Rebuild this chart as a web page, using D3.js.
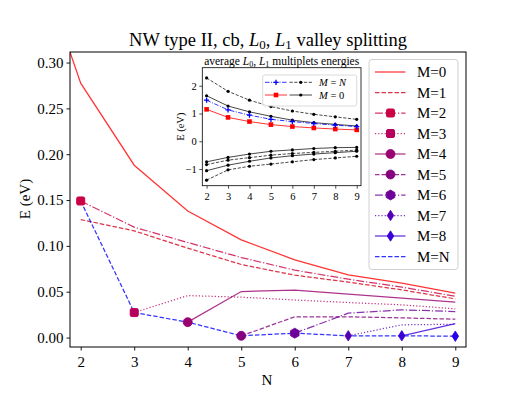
<!DOCTYPE html>
<html>
<head>
<meta charset="utf-8">
<script src="https://cdn.jsdelivr.net/npm/d3@7"></script>
<style>
  body { margin: 0; background: #fff; }
  svg { display: block; font-family: "Liberation Serif", serif; }
</style>
</head>
<body>
<svg id="chart" width="524" height="396"></svg>
<script>
// NW type II, cb — L0/L1 valley splitting vs N, with inset of multiplet energies

// ── Main data: splitting E (eV) per M, indexed by N ──────────────────────────
const M0_N = [1, 2, 3, 4, 5, 6, 7, 8, 9];
const M0_E = [0.447, 0.2775, 0.188, 0.138, 0.1066, 0.0848, 0.0684, 0.0593, 0.0484];
const M1_N = [2, 3, 4, 5, 6, 7, 8, 9];
const M1_E = [0.1287, 0.1164, 0.0975, 0.0797, 0.068, 0.0605, 0.052, 0.0422];
const M2_N = [2, 3, 4, 5, 6, 7, 8, 9];
const M2_E = [0.149, 0.1204, 0.1037, 0.0873, 0.0735, 0.0637, 0.055, 0.0451];
const M3_N = [3, 4, 5, 6, 7, 8, 9];
const M3_E = [0.0273, 0.0458, 0.044, 0.041, 0.0382, 0.0357, 0.0313];
const M4_N = [4, 5, 6, 7, 8, 9];
const M4_E = [0.0168, 0.0502, 0.0517, 0.0475, 0.043, 0.0386];
const M5_N = [5, 6, 7, 8, 9];
const M5_E = [0.0019, 0.0226, 0.0226, 0.0215, 0.020];
const M6_N = [6, 7, 8, 9];
const M6_E = [0.0048, 0.0266, 0.0302, 0.0284];
const M7_N = [7, 8, 9];
const M7_E = [0.0019, 0.0139, 0.0145];
const M8_N = [8, 9];
const M8_E = [0.0019, 0.0152];
const MN_N = [2, 3, 4, 5, 6, 7, 8, 9];
const MN_E = [0.149, 0.0273, 0.0168, 0.0019, 0.0048, 0.0019, 0.0019, 0.0015];
const M9_N = [9];
const M9_E = [0.0015];

const X_TICKS = [2, 3, 4, 5, 6, 7, 8, 9];
const Y_TICKS = [0.00, 0.05, 0.10, 0.15, 0.20, 0.25, 0.30];

// ── Inset data: average L0, L1 multiplet energies (eV) ───────────────────────
const IN_N = [2, 3, 4, 5, 6, 7, 8, 9];
const IN_RED   = [1.15, 0.86, 0.71, 0.60, 0.53, 0.48, 0.44, 0.41];
const IN_BLUE  = [1.48, 1.13, 0.94, 0.79, 0.71, 0.64, 0.58, 0.53];
const IN_K_S1  = [1.64, 1.27, 1.06, 0.90, 0.76, 0.67, 0.61, 0.55];
const IN_K_D1  = [2.28, 1.80, 1.48, 1.25, 1.09, 0.97, 0.88, 0.79];
const IN_K_S2  = [-0.74, -0.58, -0.46, -0.36, -0.31, -0.26, -0.23, -0.22];
const IN_K_D2  = [-0.84, -0.68, -0.59, -0.50, -0.44, -0.40, -0.36, -0.32];
const IN_K_S3  = [-1.06, -0.86, -0.72, -0.60, -0.52, -0.46, -0.41, -0.36];
const IN_K_D3  = [-1.40, -1.03, -0.90, -0.82, -0.74, -0.66, -0.60, -0.54];
const IN_Y_TICKS = [-1, 0, 1, 2];

// ── Styles ───────────────────────────────────────────────────────────────────
const DASH = { solid: null, dashed: '4.5,2', dashdot: '7.9,2,1.2,2', dotted: '1.2,2' };

const SERIES = [
    { label: 'M=0', n: M0_N, e: M0_E, color: '#ff0000', dash: 'solid',   marker: null },
    { label: 'M=1', n: M1_N, e: M1_E, color: '#d4001c', dash: 'dashed',  marker: null },
    { label: 'M=2', n: M2_N, e: M2_E, color: '#cc0044', dash: 'dashdot', marker: 'square' },
    { label: 'M=3', n: M3_N, e: M3_E, color: '#b5005c', dash: 'dotted',  marker: 'square' },
    { label: 'M=4', n: M4_N, e: M4_E, color: '#990070', dash: 'solid',   marker: 'circle' },
    { label: 'M=5', n: M5_N, e: M5_E, color: '#85007f', dash: 'dashed',  marker: 'circle' },
    { label: 'M=6', n: M6_N, e: M6_E, color: '#6c0098', dash: 'dashdot', marker: 'hexagon' },
    { label: 'M=7', n: M7_N, e: M7_E, color: '#5200b5', dash: 'dotted',  marker: 'thindiamond' },
    { label: 'M=8', n: M8_N, e: M8_E, color: '#3a00d5', dash: 'solid',   marker: 'thindiamond' },
    { label: 'M=N', n: MN_N, e: MN_E, color: '#0000ff', dash: 'dashed',  marker: null },
];
const EXTRA = { n: M9_N, e: M9_E, color: '#2a00e4', marker: 'thindiamond' };

const svg = d3.select('#chart');
svg.append('rect').attr('width', 524).attr('height', 396).attr('fill', '#fff');

const AX = { left: 70, right: 466, top: 52, bottom: 347 };
const x = d3.scaleLinear().domain([1.8, 9.2]).range([AX.left, AX.right]);
const y = d3.scaleLinear().domain([-0.0103, 0.3115]).range([AX.bottom, AX.top]);

const defs = svg.append('defs');
defs.append('clipPath').attr('id', 'clip-main')
    .append('rect').attr('x', AX.left).attr('y', AX.top)
    .attr('width', AX.right - AX.left).attr('height', AX.bottom - AX.top);

function drawMarker(g, kind, cx, cy, color, s) {
    s = s || 1;
    if (kind === 'square') {
        g.append('rect').attr('x', cx - 4 * s).attr('y', cy - 4 * s)
            .attr('width', 8 * s).attr('height', 8 * s).attr('rx', 1.5 * s)
            .attr('fill', color).attr('stroke', color).attr('stroke-width', 1);
    } else if (kind === 'circle') {
        g.append('circle').attr('cx', cx).attr('cy', cy).attr('r', 4.5 * s)
            .attr('fill', color).attr('stroke', color).attr('stroke-width', 0.8);
    } else if (kind === 'hexagon') {
        const r = 5 * s;
        const pts = d3.range(6).map(i => {
            const a = Math.PI / 6 + i * Math.PI / 3;
            return [cx + r * Math.cos(a), cy + r * Math.sin(a)];
        });
        g.append('path').attr('d', 'M' + pts.join('L') + 'Z')
            .attr('fill', color).attr('stroke', color).attr('stroke-width', 0.8)
            .attr('stroke-linejoin', 'round');
    } else if (kind === 'thindiamond') {
        const w = 3.3 * s, h = 5.2 * s;
        g.append('path')
            .attr('d', `M${cx},${cy - h}L${cx + w},${cy}L${cx},${cy + h}L${cx - w},${cy}Z`)
            .attr('fill', color).attr('stroke', color).attr('stroke-width', 0.8)
            .attr('stroke-linejoin', 'round');
    } else if (kind === 'dot') {
        g.append('circle').attr('cx', cx).attr('cy', cy).attr('r', 1.6 * s)
            .attr('fill', color);
    } else if (kind === 'plus') {
        const r = 2.6 * s;
        g.append('path').attr('d', `M${cx - r},${cy}H${cx + r}M${cx},${cy - r}V${cy + r}`)
            .attr('stroke', color).attr('stroke-width', 1.3);
    } else if (kind === 'smallsquare') {
        g.append('rect').attr('x', cx - 2.3).attr('y', cy - 2.3)
            .attr('width', 4.6).attr('height', 4.6).attr('fill', color);
    }
}

// ── Main axes frame + ticks ─────────────────────────────────────────────────
const gx = svg.append('g').attr('transform', `translate(0,${AX.bottom})`)
    .call(d3.axisBottom(x).tickValues(X_TICKS).tickFormat(d3.format('d'))
        .tickSize(3.5).tickPadding(4));
const gy = svg.append('g').attr('transform', `translate(${AX.left},0)`)
    .call(d3.axisLeft(y).tickValues(Y_TICKS).tickFormat(d3.format('.2f'))
        .tickSize(3.5).tickPadding(3));
[gx, gy].forEach(g => {
    g.select('.domain').remove();
    g.selectAll('text').attr('font-family', 'Liberation Serif').attr('font-size', 15).attr('fill', '#000');
    g.selectAll('line').attr('stroke', '#000').attr('stroke-width', 0.9);
});
gx.selectAll('text').attr('dy', '0.85em');

// ── Main lines ───────────────────────────────────────────────────────────────
const line = d3.line().x(d => x(d[0])).y(d => y(d[1]));
const plot = svg.append('g').attr('clip-path', 'url(#clip-main)');

SERIES.forEach(s => {
    const pts = s.n.map((n, i) => [n, s.e[i]]);
    plot.append('path').datum(pts).attr('d', line)
        .attr('fill', 'none').attr('stroke', s.color)
        .attr('stroke-opacity', 0.8).attr('stroke-width', 1.25)
        .attr('stroke-dasharray', DASH[s.dash]);
});

// markers sit at the first point (N = M) of each series
const mk = svg.append('g');
SERIES.forEach(s => {
    if (!s.marker) return;
    drawMarker(mk, s.marker, x(s.n[0]), y(s.e[0]), s.color);
});
drawMarker(mk, EXTRA.marker, x(EXTRA.n[0]), y(EXTRA.e[0]), EXTRA.color);

svg.append('rect').attr('x', AX.left).attr('y', AX.top)
    .attr('width', AX.right - AX.left).attr('height', AX.bottom - AX.top)
    .attr('fill', 'none').attr('stroke', '#000').attr('stroke-width', 1);

// ── Title and axis labels ────────────────────────────────────────────────────
const title = svg.append('text').attr('x', (AX.left + AX.right) / 2).attr('y', 46)
    .attr('text-anchor', 'middle').attr('font-size', 18.5);
title.append('tspan').text('NW type II, cb, ');
title.append('tspan').attr('font-style', 'italic').text('L');
title.append('tspan').attr('font-size', 13).attr('dy', 3).text('0');
title.append('tspan').attr('dy', -3).text(', ');
title.append('tspan').attr('font-style', 'italic').text('L');
title.append('tspan').attr('font-size', 13).attr('dy', 3).text('1');
title.append('tspan').attr('dy', -3).text(' valley splitting');

svg.append('text').attr('x', (AX.left + AX.right) / 2 - 1).attr('y', 385)
    .attr('text-anchor', 'middle').attr('font-size', 15).text('N');
svg.append('text').attr('transform', 'translate(30,199) rotate(-90)')
    .attr('text-anchor', 'middle').attr('font-size', 15).text('E (eV)');

// ── Main legend ──────────────────────────────────────────────────────────────
const lg = svg.append('g');
lg.append('rect').attr('x', 369).attr('y', 59.5).attr('width', 89).attr('height', 210)
    .attr('rx', 3).attr('fill', '#fff').attr('fill-opacity', 0.85)
    .attr('stroke', '#d0d0d0').attr('stroke-width', 1);
SERIES.forEach((s, i) => {
    const yy = 72 + i * 20.5;
    lg.append('line').attr('x1', 375).attr('x2', 405.5).attr('y1', yy).attr('y2', yy)
        .attr('stroke', s.color).attr('stroke-opacity', 0.8).attr('stroke-width', 1.25)
        .attr('stroke-dasharray', DASH[s.dash]);
    if (s.marker) drawMarker(lg, s.marker, 390.5, yy, s.color);
    lg.append('text').attr('x', 417).attr('y', yy + 5).attr('font-size', 15).text(s.label);
});

// ── Inset ────────────────────────────────────────────────────────────────────
const IN = { left: 202.3, right: 361, top: 67.7, bottom: 185.7 };
const ix = d3.scaleLinear().domain([1.8, 9.2]).range([IN.left, IN.right]);
const iy = d3.scaleLinear().domain([-1.6, 2.65]).range([IN.bottom, IN.top]);

svg.append('rect').attr('x', IN.left).attr('y', IN.top)
    .attr('width', IN.right - IN.left).attr('height', IN.bottom - IN.top)
    .attr('fill', '#fff');

const igx = svg.append('g').attr('transform', `translate(0,${IN.bottom})`)
    .call(d3.axisBottom(ix).tickValues(X_TICKS).tickFormat(d3.format('d'))
        .tickSize(3).tickPadding(3));
const igy = svg.append('g').attr('transform', `translate(${IN.left},0)`)
    .call(d3.axisLeft(iy).tickValues(IN_Y_TICKS).tickFormat(d => d < 0 ? '\u2212' + (-d) : d)
        .tickSize(3).tickPadding(2.5));
[igx, igy].forEach(g => {
    g.select('.domain').remove();
    g.selectAll('text').attr('font-family', 'Liberation Serif').attr('font-size', 10.5).attr('fill', '#000');
    g.selectAll('line').attr('stroke', '#000').attr('stroke-width', 0.7);
});
igx.selectAll('text').attr('dy', '0.8em');

const iline = d3.line().x(d => ix(d[0])).y(d => iy(d[1]));
const INSET_SERIES = [
    { e: IN_K_D1, color: '#000', dash: 'dashed',  marker: 'dot', w: 0.9 },
    { e: IN_K_S1, color: '#000', dash: 'solid',   marker: 'dot', w: 0.9 },
    { e: IN_K_S2, color: '#000', dash: 'solid',   marker: 'dot', w: 0.9 },
    { e: IN_K_D2, color: '#000', dash: 'dashed',  marker: 'dot', w: 0.9 },
    { e: IN_K_S3, color: '#000', dash: 'solid',   marker: 'dot', w: 0.9 },
    { e: IN_K_D3, color: '#000', dash: 'dashed',  marker: 'dot', w: 0.9 },
    { e: IN_RED,  color: '#ff0000', dash: 'solid',   marker: 'smallsquare', w: 1 },
    { e: IN_BLUE, color: '#0000ff', dash: 'dashdot', marker: 'plus', w: 1 },
];
const idash = { solid: null, dashed: '3.2,1.6', dashdot: '4.5,1.5,1,1.5' };
const ig = svg.append('g');
INSET_SERIES.forEach(s => {
    const pts = IN_N.map((n, i) => [n, s.e[i]]);
    ig.append('path').datum(pts).attr('d', iline)
        .attr('fill', 'none').attr('stroke', s.color).attr('stroke-opacity', 0.8)
        .attr('stroke-width', s.w).attr('stroke-dasharray', idash[s.dash]);
    pts.forEach(p => drawMarker(ig, s.marker, ix(p[0]), iy(p[1]), s.color));
});

svg.append('rect').attr('x', IN.left).attr('y', IN.top)
    .attr('width', IN.right - IN.left).attr('height', IN.bottom - IN.top)
    .attr('fill', 'none').attr('stroke', '#000').attr('stroke-width', 0.8);

const it = svg.append('text').attr('x', (IN.left + IN.right) / 2).attr('y', 64.5)
    .attr('text-anchor', 'middle').attr('font-size', 11.5);
it.append('tspan').text('average ');
it.append('tspan').attr('font-style', 'italic').text('L');
it.append('tspan').attr('font-size', 8).attr('dy', 2).text('0');
it.append('tspan').attr('dy', -2).text(', ');
it.append('tspan').attr('font-style', 'italic').text('L');
it.append('tspan').attr('font-size', 8).attr('dy', 2).text('1');
it.append('tspan').attr('dy', -2).text(' multiplets energies');

svg.append('text').attr('transform', `translate(184,${(IN.top + IN.bottom) / 2}) rotate(-90)`)
    .attr('text-anchor', 'middle').attr('font-size', 10.5).text('E (eV)');

// inset legend
const il = svg.append('g');
il.append('rect').attr('x', 262.7).attr('y', 75).attr('width', 94).attr('height', 31)
    .attr('rx', 2).attr('fill', '#fff').attr('fill-opacity', 0.85)
    .attr('stroke', '#d0d0d0').attr('stroke-width', 0.8);
const IL_ROWS = [
    { yy: 82.3, a: INSET_SERIES[7], b: INSET_SERIES[0], label: 'N' },
    { yy: 95, a: INSET_SERIES[6], b: INSET_SERIES[1], label: '0' },
];
IL_ROWS.forEach(r => {
    [[r.a, 265, 287], [r.b, 289.5, 312]].forEach(([s, x1, x2]) => {
        il.append('line').attr('x1', x1).attr('x2', x2).attr('y1', r.yy).attr('y2', r.yy)
            .attr('stroke', s.color).attr('stroke-opacity', 0.8).attr('stroke-width', s.w)
            .attr('stroke-dasharray', idash[s.dash]);
        drawMarker(il, s.marker, (x1 + x2) / 2, r.yy, s.color);
    });
    const t = il.append('text').attr('x', 319).attr('y', r.yy + 3.5).attr('font-size', 10.5);
    t.append('tspan').attr('font-style', 'italic').text('M');
    t.append('tspan').text(' = ');
    t.append('tspan').attr('font-style', r.label === 'N' ? 'italic' : 'normal').text(r.label);
});
</script>
</body>
</html>
